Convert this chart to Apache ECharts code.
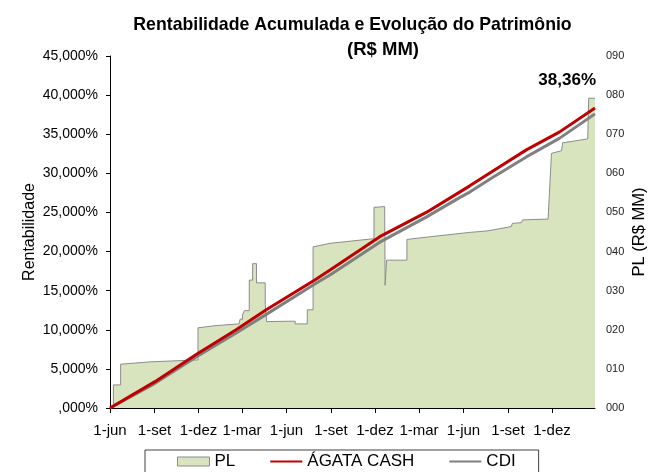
<!DOCTYPE html>
<html>
<head>
<meta charset="utf-8">
<script src="https://cdn.jsdelivr.net/npm/echarts@6/dist/echarts.min.js"></script>
<style>
html,body{margin:0;padding:0;background:#fff;}
#chart{width:649px;height:472px;}
</style>
</head>
<body>
<div id="chart"></div>
<script>
// ---- data ----
const xStart = '2014-06-01';
const xEnd = '2017-02-28';
const tickDates = ['2014-06-01','2014-09-01','2014-12-01','2015-03-01','2015-06-01','2015-09-01','2015-12-01','2016-03-01','2016-06-01','2016-09-01','2016-12-01'];
const tickLabels = ['1-jun','1-set','1-dez','1-mar','1-jun','1-set','1-dez','1-mar','1-jun','1-set','1-dez'];

const plDates = ['2014-06-08','2014-06-08','2014-06-23','2014-06-23','2014-08-23','2014-11-30','2014-11-30','2015-01-04','2015-02-23','2015-02-25','2015-03-02','2015-03-02','2015-03-06','2015-03-06','2015-03-16','2015-03-16','2015-03-23','2015-03-23','2015-03-31','2015-03-31','2015-04-18','2015-04-18','2015-04-21','2015-04-21','2015-06-19','2015-06-19','2015-07-14','2015-07-14','2015-07-26','2015-07-26','2015-08-30','2015-11-29','2015-11-29','2015-12-21','2015-12-22','2015-12-25','2015-12-25','2016-02-05','2016-02-05','2016-03-25','2016-03-27','2016-06-14','2016-07-22','2016-07-24','2016-09-08','2016-09-10','2016-09-29','2016-10-01','2016-11-23','2016-11-25','2016-11-30','2016-12-21','2016-12-23','2017-02-13','2017-02-15','2017-02-28'];
const plValues = [0,5.9,5.9,11.2,11.8,12.3,20.5,21.05,21.5,22.7,22.7,23.8,23.8,24.9,24.9,32.7,32.7,36.9,36.9,32.0,32.0,26.5,26.5,22.1,22.2,21.5,21.5,25.1,25.1,41.2,42.1,43.3,51.3,51.5,31.4,31.4,37.8,37.8,43.1,43.8,44.2,44.9,45.3,45.6,46.4,47.2,47.4,48.1,48.3,53.2,65.1,65.8,67.8,68.8,79.2,79.2];

const lineDates = ['2014-06-01','2014-09-02','2014-11-27','2015-02-16','2015-04-21','2015-08-01','2015-08-30','2015-12-11','2016-03-16','2016-05-24','2016-06-14','2016-08-01','2016-10-09','2016-12-17','2017-02-28'];
const agataValues = [0,3.37,6.86,9.97,12.6,16.45,17.64,21.9,25.0,27.6,28.4,30.3,33.0,35.3,38.36];
const cdiValues = [0,3.15,6.56,9.55,12.0,15.94,17.0,21.2,24.4,26.9,27.6,29.5,32.1,34.5,37.6];

// ---- helpers ----
const ts = s => Date.UTC(+s.slice(0,4), +s.slice(5,7) - 1, +s.slice(8,10));
const day = s => Math.round((ts(s) - ts(xStart)) / 86400000);
const tickDays = tickDates.map(day);
const pairs = (dates, vals) => dates.map((d,i) => [day(d), vals[i]]);
const FONT = 'Liberation Sans, Arial, sans-serif';

const chart = echarts.init(document.getElementById('chart'), null, {renderer:'canvas'});
chart.setOption({
  animation:false,
  backgroundColor:'#fff',
  textStyle:{fontFamily:FONT},
  title:[
    {text:'Rentabilidade Acumulada e Evolução do Patrimônio', left:352.5, top:16, textAlign:'center', padding:0,
     textStyle:{fontFamily:FONT, fontWeight:'bold', fontSize:17.7, color:'#000'}},
    {text:'(R$ MM)', left:383, top:40, textAlign:'center', padding:0,
     textStyle:{fontFamily:FONT, fontWeight:'bold', fontSize:18.5, color:'#000'}}
  ],
  grid:{left:110, right:54, top:56, bottom:64, containLabel:false, outerBoundsMode:'none'},
  legend:{
    left:145, top:450, padding:[3,23,3,32], itemGap:34, itemWidth:32, itemHeight:9,
    borderColor:'#404040', borderWidth:1,
    textStyle:{fontFamily:FONT, fontSize:17, color:'#000'},
    data:[
      {name:'PL', icon:'rect', itemStyle:{color:'#D7E4BD', borderColor:'#8C8C8C', borderWidth:1}},
      {name:'ÁGATA CASH', itemStyle:{opacity:0}},
      {name:'CDI', itemStyle:{opacity:0}}
    ]
  },
  xAxis:{
    type:'value', min:0, max:day(xEnd),
    axisLine:{show:true, onZero:false, lineStyle:{color:'#000', width:1}},
    axisTick:{show:true, customValues:tickDays, length:5, lineStyle:{color:'#000'}},
    axisLabel:{customValues:tickDays, fontSize:15, color:'#000', margin:15, fontFamily:FONT,
      formatter: v => { const i = tickDays.indexOf(v); return i >= 0 ? tickLabels[i] : ''; }},
    splitLine:{show:false}
  },
  yAxis:[
    {type:'value', min:0, max:45, interval:5, position:'left',
     name:'Rentabilidade', nameLocation:'middle', nameGap:72, nameRotate:90, nameMoveOverlap:false,
     nameTextStyle:{fontSize:16, color:'#000', fontFamily:FONT},
     axisLine:{show:true, lineStyle:{color:'#000', width:1}},
     axisTick:{show:true, length:4, lineStyle:{color:'#000'}},
     axisLabel:{fontSize:14, color:'#000', margin:12, fontFamily:FONT,
       formatter: v => (v === 0 ? '' : String(v)) + ',000%'},
     splitLine:{show:false}},
    {type:'value', min:0, max:90, interval:10, position:'right',
     name:'PL (R$ MM)', nameLocation:'middle', nameGap:36, nameRotate:90, nameMoveOverlap:false,
     nameTextStyle:{fontSize:16.5, color:'#000', fontFamily:FONT},
     axisLine:{show:false}, axisTick:{show:false},
     axisLabel:{fontSize:11, color:'#222', margin:11, fontFamily:FONT,
       formatter: v => String(v).padStart(3,'0')},
     splitLine:{show:false}}
  ],
  series:[
    {name:'PL', type:'line', yAxisIndex:1, data:pairs(plDates, plValues),
     symbol:'none', lineStyle:{color:'#8C8C8C', width:1}, itemStyle:{color:'#D7E4BD'},
     areaStyle:{color:'#D7E4BD', opacity:1}, z:1},
    {name:'ÁGATA CASH', type:'line', yAxisIndex:0, data:pairs(lineDates, agataValues),
     symbol:'none', lineStyle:{color:'#C00000', width:3}, itemStyle:{color:'#C00000'}, z:3,
     endLabel:{show:true, align:'right', verticalAlign:'middle', offset:[-4,-28], distance:5,
       fontFamily:FONT, fontWeight:'bold', fontSize:17, color:'#000',
       formatter: p => p.value[1].toFixed(2).replace('.', ',') + '%'}},
    {name:'CDI', type:'line', yAxisIndex:0, data:pairs(lineDates, cdiValues),
     symbol:'none', lineStyle:{color:'#808080', width:3}, itemStyle:{color:'#808080'}, z:2}
  ]
});
</script>
</body>
</html>
